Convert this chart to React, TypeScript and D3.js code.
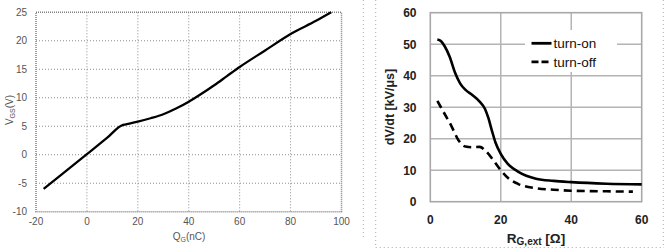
import * as d3 from "d3";

// left panel: gate charge curve
const qgTicks = [-20, 0, 20, 40, 60, 80, 100];
const vgsTicks = [-10, -5, 0, 5, 10, 15, 20, 25];
const qgValues = [-17, -10, 0, 8, 14, 15, 20, 25, 30, 35, 40, 45, 50, 55, 60, 70, 80, 90, 96];
const vgsValues = [-6, -3.5, 0.1, 3, 5.2, 5.3, 5.8, 6.4, 7.1, 8.1, 9.3, 10.7, 12.2, 13.8, 15.4, 18.3, 21.2, 23.5, 25];

// right panel: dV/dt vs external gate resistance
const rgTicks = [0, 20, 40, 60];
const dvdtTicks = [0, 10, 20, 30, 40, 50, 60];
const rgOn = [2, 3, 4, 5.5, 7, 8.5, 10, 12, 14, 15.5, 16.5, 17.5, 18.5, 20, 22, 25, 30, 35, 40, 50, 60];
const dvdtOn = [51.5, 51, 49.5, 46, 41, 37.5, 35.5, 33.8, 31.8, 29.5, 26.5, 22.5, 18.8, 15.2, 12, 9.5, 7.3, 6.6, 6.2, 5.7, 5.5];
const rgOff = [2, 4, 6, 8, 10, 12, 14, 16, 18, 20, 22, 25, 30, 35, 40, 50, 57.5];
const dvdtOff = [32, 28, 24, 19.5, 17.5, 17.3, 17.4, 15.8, 13, 10, 7.6, 5.6, 4.3, 3.8, 3.5, 3.3, 3.2];

const legend = ["turn-on", "turn-off"];

const font = "'Liberation Sans', Arial, sans-serif";

export default function App() {
  // scales
  const xL = d3.scaleLinear().domain([-20, 100]).range([36, 341.5]);
  const yL = d3.scaleLinear().domain([-10, 25]).range([211.7, 12.3]);
  const xR = d3.scaleLinear().domain([0, 60]).range([430.3, 641.7]);
  const yR = d3.scaleLinear().domain([0, 60]).range([201.7, 12.7]);

  const leftLine = d3.line<number>()
    .x((_, i) => xL(qgValues[i]))
    .y(d => yL(d))
    .curve(d3.curveMonotoneX)(vgsValues);

  const onLine = d3.line<number>()
    .x((_, i) => xR(rgOn[i]))
    .y(d => yR(d))
    .curve(d3.curveMonotoneX)(dvdtOn);

  const offLine = d3.line<number>()
    .x((_, i) => xR(rgOff[i]))
    .y(d => yR(d))
    .curve(d3.curveMonotoneX)(dvdtOff);

  return (
    <svg width={664} height={248} style={{ position: "absolute", left: 0, top: 0, background: "#fff" }}>
      {/* ---- left chart ---- */}
      {qgTicks.slice(1, -1).map(t => (
        <line key={"gx" + t} x1={xL(t)} x2={xL(t)} y1={yL(25)} y2={yL(-10)}
          stroke="#8c8c8c" strokeWidth={1} strokeDasharray="1,2" />
      ))}
      {vgsTicks.slice(1, -1).map(t => (
        <line key={"gy" + t} x1={xL(-20)} x2={xL(100)} y1={yL(t)} y2={yL(t)}
          stroke="#8c8c8c" strokeWidth={1} strokeDasharray="1,2" />
      ))}
      <rect x={xL(-20)} y={yL(25)} width={xL(100) - xL(-20)} height={yL(-10) - yL(25)}
        fill="none" stroke="#808080" strokeWidth={1.5} strokeDasharray="1,1" />
      <path d={leftLine ?? ""} fill="none" stroke="#000" strokeWidth={2.3} />
      {vgsTicks.map(t => (
        <text key={"ly" + t} x={27} y={yL(t)} dy="0.35em" textAnchor="end"
          fontFamily={font} fontSize={10} fill="#555">{t}</text>
      ))}
      {qgTicks.map(t => (
        <text key={"lx" + t} x={xL(t)} y={225} textAnchor="middle"
          fontFamily={font} fontSize={10} fill="#555">{t}</text>
      ))}
      <text x={189} y={240} textAnchor="middle" fontFamily={font} fontSize={10} fill="#555">
        Q<tspan fontSize={7} dy={2}>G</tspan><tspan dy={-2}>(nC)</tspan>
      </text>
      <text transform="translate(13,110) rotate(-90)" textAnchor="middle" fontFamily={font} fontSize={10} fill="#555">
        V<tspan fontSize={7} dy={2}>GS</tspan><tspan dy={-2}>(V)</tspan>
      </text>

      {/* ---- panel separators (dotted) ---- */}
      <line x1={363.3} x2={363.3} y1={0} y2={240} stroke="#aaa" strokeDasharray="1,3" />
      <line x1={375.7} x2={375.7} y1={0} y2={247.5} stroke="#aaa" strokeDasharray="1,3" />
      <line x1={375.7} x2={664} y1={247.5} y2={247.5} stroke="#aaa" strokeDasharray="1,3" />
      <line x1={663.3} x2={663.3} y1={0} y2={247.5} stroke="#aaa" strokeDasharray="1,3" />

      {/* ---- right chart ---- */}
      {rgTicks.slice(1, -1).map(t => (
        <line key={"rgx" + t} x1={xR(t)} x2={xR(t)} y1={yR(60)} y2={yR(0)}
          stroke="#b4b4b4" strokeWidth={1.5} />
      ))}
      {dvdtTicks.slice(1, -1).map(t => (
        <line key={"rgy" + t} x1={xR(0)} x2={xR(60)} y1={yR(t)} y2={yR(t)}
          stroke="#b4b4b4" strokeWidth={1.5} />
      ))}
      <rect x={xR(0)} y={yR(60)} width={xR(60) - xR(0)} height={yR(0) - yR(60)}
        fill="none" stroke="#a8a8a8" strokeWidth={1.6} />
      {/* legend */}
      <rect x={525} y={30} width={92} height={42} fill="#fff" />
      {legend.map((name, i) => (
        <g key={name}>
          <line x1={531.5} x2={551.5} y1={43.3 + i * 18.5} y2={43.3 + i * 18.5}
            stroke="#000" strokeWidth={2.8} strokeDasharray={i === 1 ? "7,3" : undefined} />
          <text x={553.5} y={43.3 + i * 18.5} dy="0.35em" fontFamily={font} fontSize={13.5} fill="#111">{name}</text>
        </g>
      ))}
      <path d={onLine ?? ""} fill="none" stroke="#000" strokeWidth={2.6} />
      <path d={offLine ?? ""} fill="none" stroke="#000" strokeWidth={2.6} strokeDasharray="8,5" />
      {dvdtTicks.map(t => (
        <text key={"ry" + t} x={416.5} y={yR(t)} dy="0.36em" textAnchor="end"
          fontFamily={font} fontSize={12} fontWeight="bold" fill="#222">{t}</text>
      ))}
      {rgTicks.map(t => (
        <text key={"rx" + t} x={xR(t)} y={223.5} textAnchor="middle"
          fontFamily={font} fontSize={12} fontWeight="bold" fill="#222">{t}</text>
      ))}
      <text x={536} y={243} textAnchor="middle" fontFamily={font} fontSize={13.5} fontWeight="bold" fill="#222">
        R<tspan fontSize={10} dy={2}>G,ext</tspan><tspan dy={-2}> [Ω]</tspan>
      </text>
      <text transform="translate(394,107) rotate(-90)" textAnchor="middle" fontFamily={font} fontSize={12.5} fontWeight="bold" fill="#222">
        dV/dt [kV/μs]
      </text>
    </svg>
  );
}
